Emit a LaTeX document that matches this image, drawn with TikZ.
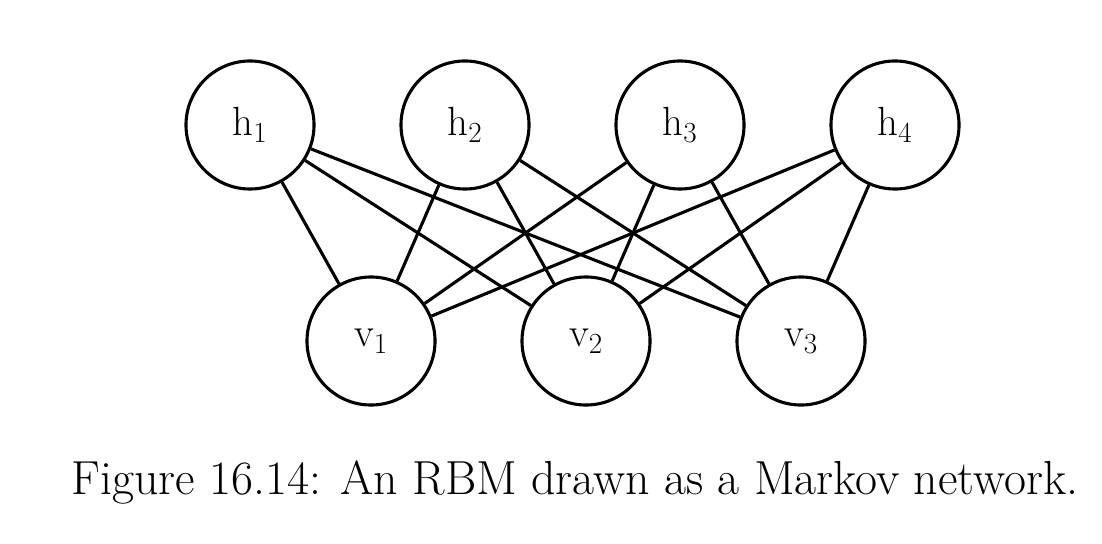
\documentclass[tikz,border=0pt]{standalone}
\usepackage{tikz}
\usetikzlibrary{positioning}

\begin{document}
\begin{tikzpicture}[x=0.025cm, y=-0.025cm,
    unit/.style={circle, draw=black, line width=2.2pt, minimum size=3.2cm, inner sep=0pt, font=\fontsize{29}{33}\selectfont},
    link/.style={line width=2.2pt, black}]

    \useasboundingbox (0,0) rectangle (1102,544);

    % Hidden units
    \node[unit] (h1) at (250,125) {h$_1$};
    \node[unit] (h2) at (465,125) {h$_2$};
    \node[unit] (h3) at (680,125) {h$_3$};
    \node[unit] (h4) at (895,125) {h$_4$};

    % Visible units
    \node[unit] (v1) at (371,341) {v$_1$};
    \node[unit] (v2) at (586,341) {v$_2$};
    \node[unit] (v3) at (801,341) {v$_3$};

    % Connections
    \foreach \i in {h1,h2,h3,h4} {
        \foreach \j in {v1,v2,v3} {
            \draw[link] (\i) -- (\j);
        }
    }

    % Caption
    \node[anchor=base, font=\fontsize{34}{40}\selectfont] (cap) at (575,494)
        {Figure 16.14: An RBM drawn as a Markov network.};
\end{tikzpicture}
\end{document}
